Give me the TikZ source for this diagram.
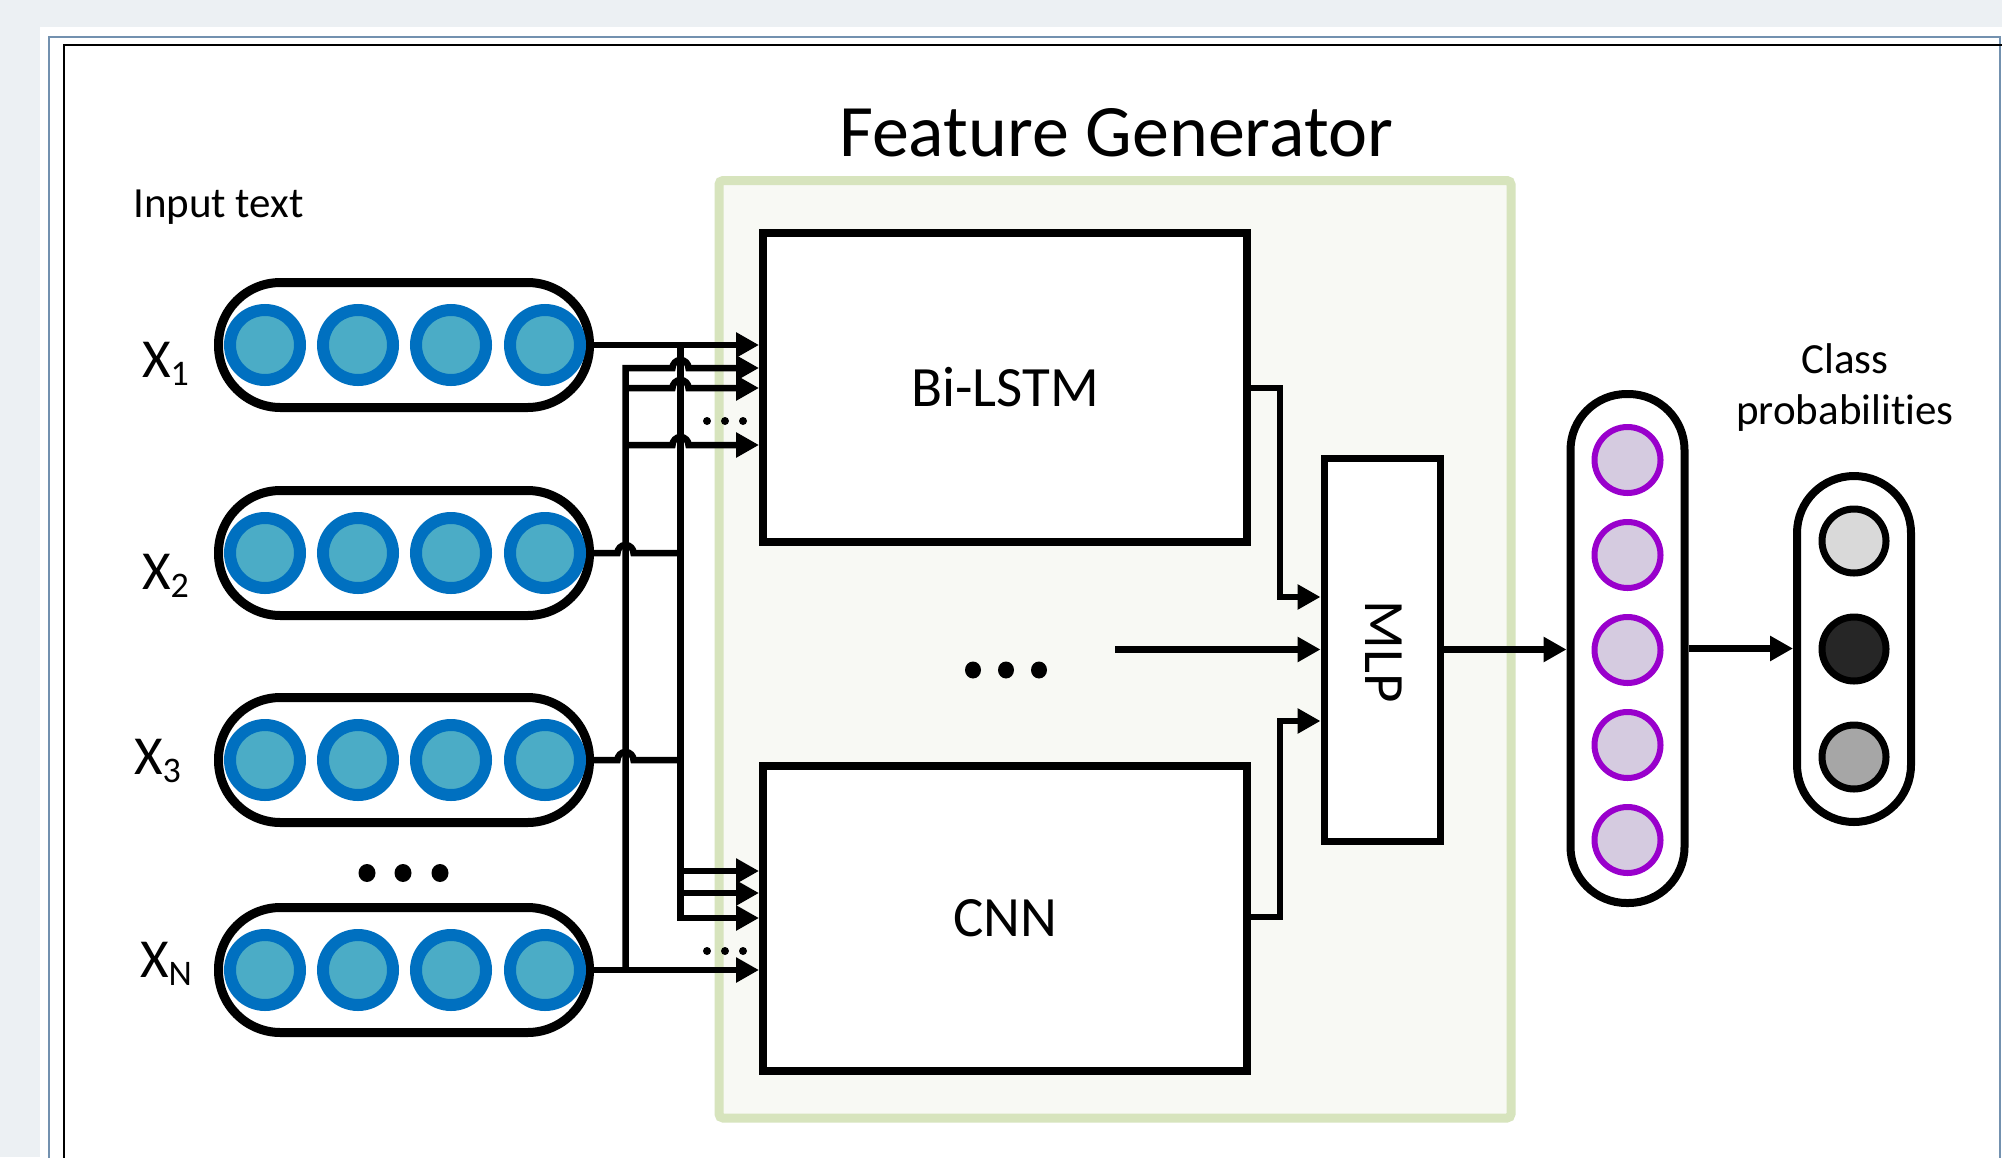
\documentclass[tikz,border=0pt]{standalone}
\usepackage{fontspec}
\setmainfont{Carlito}[RawFeature=-liga]
\usetikzlibrary{arrows.meta,calc}
\definecolor{bggrey}{HTML}{ECF0F3}
\definecolor{frameblue}{HTML}{7391AF}
\definecolor{fgfill}{HTML}{F8F9F4}
\definecolor{fgborder}{HTML}{D7E4BD}
\definecolor{inring}{HTML}{0070C0}
\definecolor{infill}{HTML}{4BACC6}
\definecolor{hidring}{HTML}{9900CC}
\definecolor{hidfill}{HTML}{D5CBE0}
\definecolor{clsA}{HTML}{D9D9D9}
\definecolor{clsB}{HTML}{262626}
\definecolor{clsC}{HTML}{A6A6A6}
\begin{document}
\begin{tikzpicture}[x=1pt,y=-1pt,
  conn/.style={line width=6.5pt},
  arr/.style={conn,-{Triangle[length=23pt,width=24pt]}},
  blk/.style={draw,line width=8pt,fill=white,inner sep=0pt},
  inpill/.style={draw,line width=9pt,fill=white,minimum width=371,minimum height=125,rounded corners=62,inner sep=0pt},
  vpill/.style={draw,line width=8pt,fill=white,minimum width=114,rounded corners=56,inner sep=0pt},
  inball/.style={draw=inring,fill=infill,line width=12pt},
  hidball/.style={draw=hidring,fill=hidfill,line width=6pt},
  clsball/.style={draw=black,line width=7pt},
  bigdot/.style={fill=black},
  txt/.style={inner sep=0pt,font=\fontsize{43}{52}\selectfont},
  xlab/.style={inner sep=0pt,anchor=base west,font=\fontsize{55}{60}\selectfont}
]
\useasboundingbox (0,0) rectangle (2002,1157);
% page frame
\fill[bggrey] (0,0) rectangle (2002,1157);
\fill[white] (40,27) rectangle (2002,1157);
\draw[frameblue,line width=2pt] (49,1170) -- (49,37) -- (2000,37) -- (2000,1170);
\draw[black,line width=2.5pt] (64,1170) -- (64,45) -- (2010,45);

% feature generator container
\node[draw=fgborder,fill=fgfill,line width=9pt,minimum width=792,minimum height=937.5,rounded corners=4,inner sep=0pt] (fg) at (1115,649.25) {};
\node[inner sep=0pt,anchor=base,font=\fontsize{74}{80}\selectfont] (title) at (1116,156) {Feature Generator};

% labels
\node[txt,anchor=base west] (intext) at (133,217) {Input text};
\node[txt,anchor=base] (cls1) at (1845,373) {Class};
\node[txt,anchor=base] (cls2) at (1845,424) {probabilit\kern0pt ies};

% input pills
\foreach \n/\y in {1/345,2/553,3/760,N/970}{
  \node[inpill] (p\n) at (404,\y) {};
  \foreach \x in {265,358,451,545}{
    \draw[inball] (\x,\y) circle[radius=35pt];
  }
}
\node[xlab] (x1) at (142,377) {X\raisebox{-8pt}{\fontsize{36}{36}\selectfont 1}};
\node[xlab] (x2) at (142,589) {X\raisebox{-8pt}{\fontsize{36}{36}\selectfont 2}};
\node[xlab] (x3) at (134,774) {X\raisebox{-8pt}{\fontsize{36}{36}\selectfont 3}};
\node[xlab] (xn) at (140,977) {X\raisebox{-8pt}{\fontsize{36}{36}\selectfont N}};
\foreach \x in {367,403,440} \fill[bigdot] (\x,873) circle[x radius=8.5pt,y radius=9pt];

% blocks
\node[blk,minimum width=484,minimum height=309,font=\fontsize{57}{60}\selectfont] (bilstm) at (1005,387.5) {Bi-LSTM};
\node[blk,minimum width=484,minimum height=305,font=\fontsize{57}{60}\selectfont] (cnn) at (1005,918.5) {CNN};
\node[blk,line width=7pt,minimum width=116,minimum height=383] (mlp) at (1382,649.5) {};
\node[inner sep=0pt,rotate=-90,font=\fontsize{57}{60}\selectfont] (mlptxt) at (1383.5,652) {MLP};

% hidden and output pills
\node[vpill,minimum height=509] (hid) at (1627.5,648.5) {};
\foreach \y in {460,555,650,745,840} \draw[hidball] (1627.5,\y) circle[radius=33pt];
\node[vpill,minimum height=346,rounded corners=57] (cls) at (1854,649) {};
\draw[clsball,fill=clsA] (1854,541) circle[radius=32pt];
\draw[clsball,fill=clsB] (1854,649) circle[radius=32pt];
\draw[clsball,fill=clsC] (1854,757) circle[radius=32pt];

% junction and target coordinates
\coordinate (ja) at (680.5,345);
\coordinate (jb) at (625.5,970);
\path (bilstm.west |- p1.east) coordinate (b1)
      (bilstm.west |- 0,368) coordinate (b2)
      (bilstm.west |- 0,388) coordinate (b3)
      (bilstm.west |- 0,445) coordinate (b4);
\path (cnn.west |- 0,871) coordinate (c1)
      (cnn.west |- 0,893) coordinate (c2)
      (cnn.west |- 0,918) coordinate (c3)
      (cnn.west |- pN.east) coordinate (c4);

% X1 and XN
\draw[arr] (p1.east) -- (b1);
\draw[arr] (pN.east) -- (c4);
% trunk A (from X1) to CNN
\draw[arr] (ja) -- (ja |- c3) -- (c3);
\draw[arr] (ja |- c1) -- (c1);
\draw[arr] (ja |- c2) -- (c2);
% trunk B (from XN) to Bi-LSTM, hopping over trunk A
\draw[arr] (jb) -- (jb |- b2) -- ($(ja |- b2)+(-8,0)$) arc[start angle=180,end angle=0,radius=8pt] -- (b2);
\draw[arr] (jb |- b3) -- ($(ja |- b3)+(-8,0)$) arc[start angle=180,end angle=0,radius=8pt] -- (b3);
\draw[arr] (jb |- b4) -- ($(ja |- b4)+(-8,0)$) arc[start angle=180,end angle=0,radius=8pt] -- (b4);
% X2, X3 hop over trunk B and join trunk A
\draw[conn] (p2.east) -- ($(jb |- p2.east)+(-8,0)$) arc[start angle=180,end angle=0,radius=8pt] -- (ja |- p2.east);
\draw[conn] (p3.east) -- ($(jb |- p3.east)+(-8,0)$) arc[start angle=180,end angle=0,radius=8pt] -- (ja |- p3.east);
% small ellipsis dots
\foreach \x in {707,725,743}{
  \fill (\x,421) circle[radius=4pt];
  \fill (\x,951) circle[radius=4pt];
}

% to MLP
\draw[arr] (bilstm.east |- 0,388) -- (1280,388) -- (1280,597) -- (mlp.west |- 0,597);
\draw[arr] (cnn.east |- 0,917) -- (1280,917) -- (1280,721) -- (mlp.west |- 0,721);
\coordinate (mid) at (1115,649.5);
\draw[arr] (mid) -- (mid -| mlp.west);
\foreach \x in {973,1006,1039} \fill (\x,670) circle[x radius=8pt,y radius=8.5pt];

% outputs
\draw[arr] (mlp.east) -- (mlp.east -| hid.west);
\draw[arr] (hid.east) -- (hid.east -| cls.west);
\end{tikzpicture}
\end{document}
